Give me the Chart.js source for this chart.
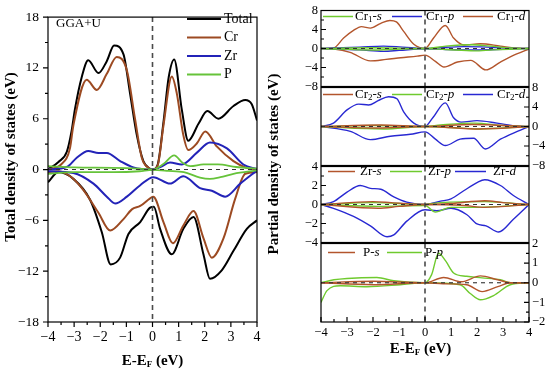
<!DOCTYPE html>
<html><head><meta charset="utf-8">
<script src="https://cdn.jsdelivr.net/npm/chart.js@4.4.0/dist/chart.umd.min.js"></script>
<style>
body{margin:0;background:#fff}
#wrap{position:relative;width:550px;height:375px;overflow:hidden;background:#fff}
canvas{position:absolute}
</style></head>
<body><div id="wrap">
<canvas id="c0" width="290" height="375" style="left:0;top:0"></canvas>
<canvas id="p1" width="260" height="97" style="left:290px;top:0"></canvas>
<canvas id="p2" width="260" height="99" style="left:290px;top:77px"></canvas>
<canvas id="p3" width="260" height="97" style="left:290px;top:156px"></canvas>
<canvas id="p4" width="260" height="142" style="left:290px;top:233px"></canvas>
</div>
<script>
// ---------- Left panel: total DOS (energy, value) ----------
const xTicks = [-4, -3, -2, -1, 0, 1, 2, 3, 4];
const leftYTicks = [-18, -12, -6, 0, 6, 12, 18];
const leftLegend = ['Total', 'Cr', 'Zr', 'P'];

const totUpE = [-4, -3.6, -3.28, -3.1, -2.97, -2.71, -2.46, -2.07, -1.75, -1.47, -1.11, -0.86, -0.6, -0.35, -0.1, 0, 0.2, 0.42, 0.62, 0.83, 1.12, 1.37, 1.76, 2.1, 2.52, 3.1, 3.55, 3.8, 4];
const totUpV = [0, 0.9, 2.1, 4.5, 7.1, 10.9, 12.9, 11.4, 12.8, 14.65, 13.6, 9.0, 4.06, 1.0, 0.1, 0, 0.6, 5.6, 10.9, 13.0, 7.1, 3.4, 5.4, 6.9, 6.0, 7.5, 8.2, 7.7, 5.8];
const crUpE = [-4, -3.5, -3.16, -3.03, -2.52, -2.13, -1.75, -1.37, -0.98, -0.67, -0.41, -0.1, 0, 0.2, 0.42, 0.74, 0.93, 1.18, 1.37, 1.7, 2.02, 2.47, 3.1, 3.6, 4];
const crUpV = [0, 0.6, 2.5, 5.2, 10.6, 9.4, 11.3, 13.3, 11.7, 6.0, 1.4, 0.1, 0, 0.5, 5.2, 11.0, 9.0, 4.06, 2.3, 3.1, 4.5, 2.7, 1.0, 0.2, 0];
const zrUpE = [-4, -3.28, -2.9, -2.46, -2.07, -1.75, -1.24, -0.73, 0, 0.3, 0.67, 1.12, 1.7, 2.2, 2.85, 3.48, 4];
const zrUpV = [0, 0.3, 1.4, 2.2, 1.95, 1.95, 1.0, 0.25, 0, 0.3, 0.82, 0.6, 2.0, 3.2, 2.5, 0.6, 0.05];
const pUpE = [-4, -3, -1.5, -0.5, 0, 0.42, 0.83, 1.15, 1.45, 1.95, 2.5, 3.2, 4];
const pUpV = [0.4, 0.25, 0.2, 0.1, 0, 0.66, 1.68, 0.8, 0.4, 0.6, 0.6, 0.3, 0.1];

const totDnE = [-4, -3.6, -3.03, -2.39, -1.94, -1.6, -1.24, -0.92, -0.47, -0.09, 0.05, 0.29, 0.74, 1.18, 1.57, 1.95, 2.2, 2.65, 3.1, 3.61, 4];
const totDnV = [-1.5, -0.3, -1.1, -3.56, -7.4, -11.2, -10.4, -7.6, -6.2, -4.5, -4.4, -7.0, -10.0, -7.0, -5.6, -10.0, -12.9, -11.9, -9.6, -7.0, -6.0];
const crDnE = [-4, -3.6, -3.1, -2.65, -2.07, -1.62, -1.11, -0.79, -0.47, -0.09, 0.03, 0.42, 0.78, 1.18, 1.57, 1.95, 2.27, 2.72, 3.16, 3.55, 4];
const crDnV = [-0.3, -0.2, -0.9, -2.4, -5.1, -7.2, -5.85, -4.7, -4.3, -3.4, -3.2, -6.2, -8.7, -6.6, -4.9, -8.1, -10.4, -8.1, -3.5, -0.5, -0.3];
const zrDnE = [-4, -3.03, -2.26, -1.75, -1.43, -0.98, -0.47, 0.03, 0.67, 1.18, 1.82, 2.27, 2.78, 3.36, 4];
const zrDnV = [-0.2, -0.4, -1.66, -3.2, -4.0, -3.2, -1.85, -0.9, -1.66, -0.8, -2.2, -2.5, -3.2, -1.66, -0.1];
const pDnE = [-4, -3, -1.5, -0.5, 0, 0.6, 1.2, 1.82, 2.2, 2.6, 3.1, 4];
const pDnV = [-0.5, -0.3, -0.3, -0.2, -0.05, -0.15, -0.3, -0.95, -1.1, -0.9, -0.5, -0.1];

// ---------- Right panels: partial DOS ----------
const cr1YTicks = [-8, -4, 0, 4, 8];
const cr1Legend = ['Cr1-s', 'Cr1-p', 'Cr1-d'];
const cr1dUpE = [-4, -3.52, -3.13, -2.75, -2.45, -2.1, -1.7, -1.35, -1.1, -0.82, -0.43, 0, 0.33, 0.78, 1.1, 1.49, 2.13, 2.9, 3.5, 4];
const cr1dUpV = [0, 0.1, 2.2, 3.8, 4.6, 4.3, 5.3, 5.9, 5.6, 3.6, 0.9, 0, 2.2, 4.85, 2.2, 0.75, 1.0, 0.5, 0.1, 0];
const cr1dDnE = [-4, -3.5, -2.88, -2.1, -1.5, -0.93, -0.3, 0, 0.4, 0.73, 1.25, 1.76, 2.34, 2.9, 3.53, 4];
const cr1dDnV = [0, -0.1, -0.8, -2.6, -2.3, -1.95, -1.6, -1.4, -2.7, -3.9, -2.85, -2.5, -4.5, -2.85, -1.14, -0.1];
const cr1pUpE = [-4, -2.5, -1.6, -1.0, -0.4, 0, 0.6, 1.5, 2.4, 3.2, 4];
const cr1pUpV = [0, 0.3, 0.5, 0.35, 0.1, 0, 0.2, 0.4, 0.3, 0.1, 0];
const cr1pDnE = [-4, -2.5, -1.6, -1.0, 0, 0.8, 1.8, 2.5, 4];
const cr1pDnV = [0, -0.3, -0.6, -0.4, -0.05, -0.2, -0.3, -0.25, 0];
const cr1sUpE = [-4, -2, 0, 0.8, 1.8, 2.5, 3.3, 4];
const cr1sUpV = [0, 0.15, 0, 0.5, 0.8, 0.5, 0.1, 0];
const cr1sDnE = [-4, -2, -1.5, 0, 0.8, 1.9, 2.6, 4];
const cr1sDnV = [0, -0.3, -0.25, 0, -0.2, -0.5, -0.3, 0];

const cr2YTicks = [-8, -4, 0, 4, 8];
const cr2Legend = ['Cr2-s', 'Cr2-p', 'Cr2-d'];
const cr2dUpE = [-4, -3.52, -3.0, -2.55, -2.17, -1.8, -1.4, -1.08, -0.82, -0.43, 0, 0.3, 0.78, 1.1, 1.4, 2.0, 2.77, 3.5, 4];
const cr2dUpV = [0, 0.7, 3.4, 4.6, 4.4, 5.3, 6.1, 5.7, 3.0, 0.7, 0, 1.8, 4.85, 1.8, 0.9, 1.2, 0.7, 0.1, 0];
const cr2dDnE = [-4, -2.87, -2.1, -1.33, -0.56, 0, 0.4, 0.78, 1.35, 1.87, 2.32, 2.9, 3.55, 4];
const cr2dDnV = [0, -1.0, -2.7, -2.0, -1.6, -1.1, -2.6, -3.9, -2.6, -2.4, -4.6, -2.6, -1.0, 0];
const cr2sUpE = [-4, -1.7, 0, 1.8, 4];
const cr2sUpV = [0, 0.3, 0, 0.4, 0];
const cr2sDnE = [-4, -1.8, 0, 2.1, 4];
const cr2sDnV = [0, -0.3, 0, -0.5, 0];
const cr2pUpE = [-4, -2, 0, 0.6, 1.9, 3, 4];
const cr2pUpV = [0, 0.2, 0, 0.3, 0.7, 0.2, 0];
const cr2pDnE = [-4, -1.6, 0, 1, 2, 4];
const cr2pDnV = [0, -0.5, 0, -0.2, -0.5, 0];

const zrYTicks = [-4, -2, 0, 2, 4];
const zrLegend = ['Zr-s', 'Zr-p', 'Zr-d'];
const zrdUpE = [-4, -3.52, -3.0, -2.49, -2.1, -1.7, -1.2, -0.7, 0, 0.6, 1.0, 1.49, 2.0, 2.3, 2.9, 3.4, 4];
const zrdUpV = [0, 0.3, 1.3, 2.0, 1.7, 1.6, 0.8, 0.25, 0, 0.35, 0.6, 1.45, 2.3, 2.6, 2.0, 0.95, 0];
const zrdDnE = [-4, -3.52, -2.75, -2.1, -1.46, -1.2, -0.7, 0, 0.45, 1.0, 1.6, 2.0, 2.35, 2.83, 3.4, 4];
const zrdDnV = [0, -0.4, -1.25, -2.25, -3.4, -3.2, -1.75, -0.55, -0.65, -0.4, -1.05, -2.05, -2.25, -2.9, -1.55, 0];
const zrsUpE = [-4, -2, -1.3, 0, 1, 2.3, 3, 4];
const zrsUpV = [0, 0.3, 0.2, 0, 0.1, 0.4, 0.2, 0];
const zrsDnE = [-4, -1.8, -1, 0, 1.5, 2.3, 4];
const zrsDnV = [0, -0.4, -0.2, 0, -0.1, -0.3, 0];
const zrpUpE = [-4, -2, 0, 0.4, 2.3, 4];
const zrpUpV = [0, 0.2, 0, 0.15, 0.3, 0];
const zrpDnE = [-4, -1.8, 0, 0.4, 1.0, 2, 4];
const zrpDnV = [0, -0.2, -0.1, -0.8, -0.3, -0.3, 0];

const pYTicks = [-2, -1, 0, 1, 2];
const pLegend = ['P-s', 'P-p'];
const ppUpE = [-4, -3.5, -3, -1.85, -1.2, 0, 0.25, 0.52, 0.8, 1.1, 1.6, 2.2, 2.9, 3.3, 4];
const ppUpV = [0, 0.15, 0.22, 0.27, 0.1, 0, 0.4, 1.5, 1.1, 0.5, 0.33, 0.25, 0.15, 0, 0];
const ppDnE = [-4, -3.77, -3.26, -2.23, -0.95, 0, 1.35, 1.74, 2.13, 2.64, 3.28, 4];
const ppDnV = [-1.0, -0.4, -0.15, -0.2, -0.1, 0, -0.1, -0.55, -0.87, -0.65, -0.1, 0];
const psUpE = [-4, -2, 0, 0.72, 1.4, 2.13, 2.8, 3.3, 4];
const psUpV = [0, 0.08, 0, 0.27, 0.05, 0.35, 0.15, 0, 0];
const psDnE = [-4, -2, 0, 0.7, 1.6, 2.2, 2.8, 3.3, 4];
const psDnV = [0, -0.1, 0, -0.05, -0.1, -0.45, -0.2, 0, 0];

// ---------- styling ----------
const SERIF = '"Liberation Serif", "Times New Roman", serif';
const C_BLACK = '#000000', C_CR = '#9c4a22', C_ZR = '#2323b8', C_P = '#66c33a';
const R_BROWN = '#b3552c', R_BLUE = '#2828d2', R_GREEN = '#6fca2e';

function pts(xs, ys) { return xs.map((x, i) => ({ x: x, y: ys[i] })); }
function ds(xs, ys, color, w) {
  return { data: pts(xs, ys), borderColor: color, borderWidth: w, pointRadius: 0,
           fill: false, cubicInterpolationMode: 'monotone', tension: 0.4 };
}
function fmt(v) { return v < 0 ? '\u2212' + Math.abs(v) : String(v); }

function drawRich(ctx, x, y, segs, align) {
  let total = 0;
  segs.forEach(s => { ctx.font = s.f; total += ctx.measureText(s.t).width; });
  let cx = align === 'center' ? x - total / 2 : x;
  ctx.textAlign = 'left';
  ctx.textBaseline = 'middle';
  segs.forEach(s => { ctx.font = s.f; ctx.fillText(s.t, cx, y + (s.dy || 0)); cx += ctx.measureText(s.t).width; });
}
function legendSegs(label, size) {
  const m = label.match(/^([A-Za-z]+)(\d?)-([a-z])$/);
  const segs = [{ t: m[1], f: size + 'px ' + SERIF }];
  if (m[2]) segs.push({ t: m[2], f: Math.round(size * 0.7) + 'px ' + SERIF, dy: 3 });
  segs.push({ t: '-', f: size + 'px ' + SERIF });
  segs.push({ t: m[3], f: 'italic ' + size + 'px ' + SERIF });
  return segs;
}
function dashed(ctx, a, x, y) {
  ctx.save();
  ctx.setLineDash([5, 4]);
  ctx.strokeStyle = '#4a4a4a'; ctx.lineWidth = 1.6;
  const px = x.getPixelForValue(0);
  ctx.beginPath(); ctx.moveTo(px, a.top); ctx.lineTo(px, a.bottom); ctx.stroke();
  ctx.strokeStyle = '#333'; ctx.lineWidth = 1.1; ctx.setLineDash([4, 4]);
  const py = y.getPixelForValue(0);
  ctx.beginPath(); ctx.moveTo(a.left, py); ctx.lineTo(a.right, py); ctx.stroke();
  ctx.restore();
}
function tickMarks(ctx, scale, vals, horizontal, base, len) {
  ctx.beginPath();
  vals.forEach(v => {
    const p = scale.getPixelForValue(v);
    if (horizontal) { ctx.moveTo(p, base); ctx.lineTo(p, base + len); }
    else { ctx.moveTo(base, p); ctx.lineTo(base + len, p); }
  });
  ctx.stroke();
}
function halfSteps(ticks) {
  const out = [];
  for (let i = 0; i < ticks.length - 1; i++) out.push((ticks[i] + ticks[i + 1]) / 2);
  return out;
}

// ---------- left chart ----------
const leftPlugin = {
  id: 'leftDecor',
  afterDatasetsDraw(chart) {
    const { ctx, chartArea: a, scales: { x, y } } = chart;
    dashed(ctx, a, x, y);
  },
  afterDraw(chart) {
    const { ctx, chartArea: a, scales: { x, y } } = chart;
    ctx.save();
    ctx.strokeStyle = '#000'; ctx.lineWidth = 1.2;
    ctx.strokeRect(a.left, a.top, a.right - a.left, a.bottom - a.top);
    tickMarks(ctx, x, xTicks, true, a.bottom, 5);
    tickMarks(ctx, x, halfSteps(xTicks), true, a.bottom, 3);
    tickMarks(ctx, y, leftYTicks, false, a.left, -5);
    tickMarks(ctx, y, halfSteps(leftYTicks), false, a.left, -3);
    const colors = [C_BLACK, C_CR, C_ZR, C_P];
    const rows = [19, 37.5, 56, 74.5];
    ctx.fillStyle = '#000';
    leftLegend.forEach((t, i) => {
      ctx.strokeStyle = colors[i]; ctx.lineWidth = 2;
      ctx.beginPath(); ctx.moveTo(187, rows[i]); ctx.lineTo(221, rows[i]); ctx.stroke();
      drawRich(ctx, 224, rows[i], [{ t: t, f: '14px ' + SERIF }]);
    });
    drawRich(ctx, 56, 24, [{ t: 'GGA+U', f: '13px ' + SERIF }]);
    const bold = 'bold 15px ' + SERIF;
    drawRich(ctx, 152.5, 361, [{ t: 'E-E', f: bold }, { t: 'F', f: 'bold 9px ' + SERIF, dy: 4 }, { t: ' (eV)', f: bold }], 'center');
    ctx.save(); ctx.translate(11, 157); ctx.rotate(-Math.PI / 2);
    drawRich(ctx, 0, 0, [{ t: 'Total density of states (eV)', f: bold }], 'center');
    ctx.restore();
    ctx.save(); ctx.translate(274, 164); ctx.rotate(-Math.PI / 2);
    drawRich(ctx, 0, 0, [{ t: 'Partial density of states (eV)', f: bold }], 'center');
    ctx.restore();
    ctx.restore();
  }
};

new Chart(document.getElementById('c0'), {
  type: 'line',
  data: { datasets: [
    ds(pUpE, pUpV, C_P, 1.8), ds(pDnE, pDnV, C_P, 1.8),
    ds(zrUpE, zrUpV, C_ZR, 2), ds(zrDnE, zrDnV, C_ZR, 2),
    ds(crUpE, crUpV, C_CR, 2), ds(crDnE, crDnV, C_CR, 2),
    ds(totUpE, totUpV, C_BLACK, 2), ds(totDnE, totDnV, C_BLACK, 2)
  ] },
  options: {
    responsive: false, animation: false, events: [],
    layout: { padding: { top: 9, right: 33, left: 0, bottom: 0 } },
    plugins: { legend: { display: false }, tooltip: { enabled: false } },
    scales: {
      x: { type: 'linear', min: -4, max: 4,
           ticks: { stepSize: 1, autoSkip: false, padding: 7, color: '#000', font: { family: SERIF, size: 14 }, callback: fmt },
           grid: { display: false, drawTicks: false }, border: { display: false },
           afterFit: s => { s.height = 53; } },
      y: { type: 'linear', min: -18, max: 18,
           ticks: { stepSize: 6, autoSkip: false, padding: 9, color: '#000', font: { family: SERIF, size: 13.5 }, callback: fmt },
           grid: { display: false, drawTicks: false }, border: { display: false },
           afterFit: s => { s.width = 48; } }
    }
  },
  plugins: [leftPlugin]
});

// ---------- right panels ----------
function makePanel(id, datasets, yTicks, side, showX, legendItems) {
  const plugin = {
    id: 'panel' + id,
    afterDatasetsDraw(chart) {
      const { ctx, chartArea: a, scales: { x, y } } = chart;
      dashed(ctx, a, x, y);
    },
    afterDraw(chart) {
      const { ctx, chartArea: a, scales: { x, y } } = chart;
      ctx.save();
      ctx.strokeStyle = '#000'; ctx.lineWidth = 1.2;
      ctx.strokeRect(a.left, a.top, a.right - a.left, a.bottom - a.top);
      const base = side === 'left' ? a.left : a.right;
      const dir = side === 'left' ? 1 : -1;
      tickMarks(ctx, y, yTicks, false, base, 5 * dir);
      tickMarks(ctx, y, halfSteps(yTicks), false, base, 3 * dir);
      if (showX) {
        tickMarks(ctx, x, xTicks, true, a.bottom, -5);
        tickMarks(ctx, x, halfSteps(xTicks), true, a.bottom, -3);
        const bold = 'bold 15px ' + SERIF;
        drawRich(ctx, 130.5, 116, [{ t: 'E-E', f: bold }, { t: 'F', f: 'bold 9px ' + SERIF, dy: 4 }, { t: ' (eV)', f: bold }], 'center');
      }
      ctx.fillStyle = '#000';
      legendItems.forEach(it => {
        ctx.strokeStyle = it.color; ctx.lineWidth = 1.5;
        ctx.beginPath(); ctx.moveTo(it.x1, a.top + it.dy); ctx.lineTo(it.x2, a.top + it.dy); ctx.stroke();
        drawRich(ctx, it.tx, a.top + it.dy, legendSegs(it.label, 13));
      });
      ctx.restore();
    }
  };
  const yMax = yTicks[yTicks.length - 1];
  const canvas = document.getElementById(id);
  const padTop = id === 'p1' ? 9 : 10;
  new Chart(canvas, {
    type: 'line',
    data: { datasets: datasets },
    options: {
      responsive: false, animation: false, events: [],
      layout: { padding: { top: padTop, bottom: showX ? 0 : 10, left: side === 'left' ? 0 : 31, right: side === 'left' ? 21 : 0 } },
      plugins: { legend: { display: false }, tooltip: { enabled: false } },
      scales: {
        x: { type: 'linear', min: -4, max: 4, display: showX,
             ticks: { stepSize: 1, autoSkip: false, padding: 3, color: '#000', font: { family: SERIF, size: 12.5 }, callback: fmt },
             grid: { display: false, drawTicks: false }, border: { display: false },
             afterFit: s => { s.height = showX ? 53 : 0; } },
        y: { type: 'linear', min: -yMax, max: yMax, position: side,
             ticks: { stepSize: yTicks[1] - yTicks[0], autoSkip: false, padding: 3, color: '#000', font: { family: SERIF, size: 12.5 }, callback: fmt },
             grid: { display: false, drawTicks: false }, border: { display: false },
             afterFit: s => { s.width = side === 'left' ? 31 : 21; } }
      }
    },
    plugins: [plugin]
  });
}

const W = 1.4;
makePanel('p1', [
  ds(cr1sUpE, cr1sUpV, R_GREEN, W), ds(cr1sDnE, cr1sDnV, R_GREEN, W),
  ds(cr1pUpE, cr1pUpV, R_BLUE, W), ds(cr1pDnE, cr1pDnV, R_BLUE, W),
  ds(cr1dUpE, cr1dUpV, R_BROWN, W), ds(cr1dDnE, cr1dDnV, R_BROWN, W)
], cr1YTicks, 'left', false, [
  { label: cr1Legend[0], color: R_GREEN, x1: 33, x2: 63, tx: 65, dy: 6 },
  { label: cr1Legend[1], color: R_BLUE, x1: 102, x2: 132, tx: 136, dy: 6 },
  { label: cr1Legend[2], color: R_BROWN, x1: 173, x2: 203, tx: 207, dy: 6 }
]);
makePanel('p2', [
  ds(cr2sUpE, cr2sUpV, R_BROWN, W), ds(cr2sDnE, cr2sDnV, R_BROWN, W),
  ds(cr2pUpE, cr2pUpV, R_GREEN, W), ds(cr2pDnE, cr2pDnV, R_GREEN, W),
  ds(cr2dUpE, cr2dUpV, R_BLUE, W), ds(cr2dDnE, cr2dDnV, R_BLUE, W)
], cr2YTicks, 'right', false, [
  { label: cr2Legend[0], color: R_BROWN, x1: 33, x2: 63, tx: 65, dy: 7 },
  { label: cr2Legend[1], color: R_GREEN, x1: 102, x2: 132, tx: 136, dy: 7 },
  { label: cr2Legend[2], color: R_BLUE, x1: 173, x2: 203, tx: 207, dy: 7 }
]);
makePanel('p3', [
  ds(zrsUpE, zrsUpV, R_BROWN, W), ds(zrsDnE, zrsDnV, R_BROWN, W),
  ds(zrpUpE, zrpUpV, R_GREEN, W), ds(zrpDnE, zrpDnV, R_GREEN, W),
  ds(zrdUpE, zrdUpV, R_BLUE, W), ds(zrdDnE, zrdDnV, R_BLUE, W)
], zrYTicks, 'left', false, [
  { label: zrLegend[0], color: R_BROWN, x1: 38, x2: 65, tx: 70, dy: 5 },
  { label: zrLegend[1], color: R_GREEN, x1: 100, x2: 132, tx: 138, dy: 5 },
  { label: zrLegend[2], color: R_BLUE, x1: 165, x2: 196, tx: 203, dy: 5 }
]);
makePanel('p4', [
  ds(psUpE, psUpV, R_BROWN, W), ds(psDnE, psDnV, R_BROWN, W),
  ds(ppUpE, ppUpV, R_GREEN, W), ds(ppDnE, ppDnV, R_GREEN, W)
], pYTicks, 'right', true, [
  { label: pLegend[0], color: R_BROWN, x1: 38, x2: 65, tx: 73, dy: 9 },
  { label: pLegend[1], color: R_GREEN, x1: 97, x2: 132, tx: 135, dy: 9 }
]);
</script>
</body></html>
